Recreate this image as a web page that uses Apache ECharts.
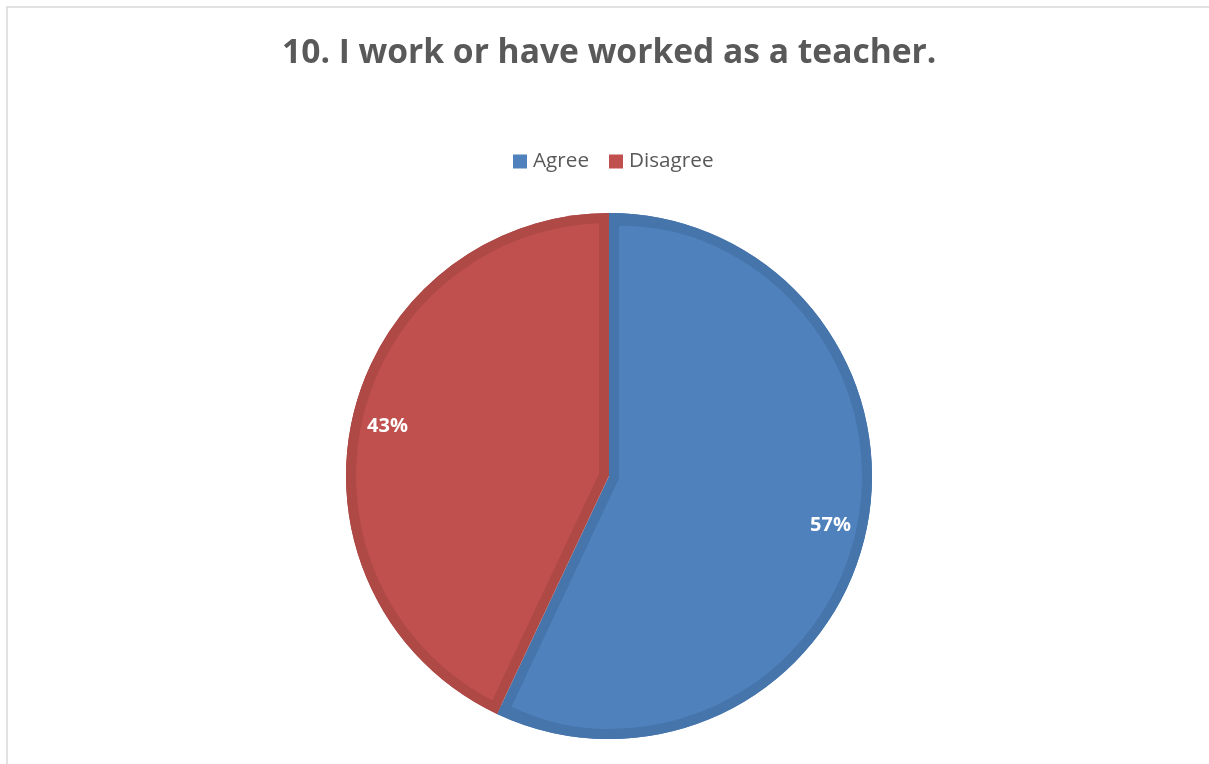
<!DOCTYPE html>
<html>
<head>
<meta charset="utf-8">
<script src="https://cdn.jsdelivr.net/npm/echarts@6/dist/echarts.min.js"></script>
<style>
  html, body { margin: 0; padding: 0; background: #ffffff; }
  #chart { width: 1209px; height: 764px; }
</style>
</head>
<body>
<div id="chart"></div>
<script>
// Survey answers for question 10 (percent of respondents)
const categories = ['Agree', 'Disagree'];
const shares = [57, 43];

const lightColors = ['#4F81BD', '#C0504D'];
const darkColors = ['#4675AB', '#AE4946'];

const CX = 609, CY = 476, R = 263, BAND = 10;

// Each lighter wedge is the slice shifted along its bisector so that both
// straight edges sit BAND pixels inside, giving the bevelled look.
const total = shares.reduce((a, b) => a + b, 0);
let acc = 0;
const wedgeCenters = shares.map(v => {
  const sweep = v / total * 2 * Math.PI;
  const mid = acc + sweep / 2; // clockwise from 12 o'clock
  acc += sweep;
  const shift = BAND / Math.sin(sweep / 2);
  return [CX + shift * Math.sin(mid), CY - shift * Math.cos(mid)];
});

function items(colors, only) {
  return categories.map((name, i) => ({
    name,
    value: shares[i],
    itemStyle: { color: (only === undefined || only === i) ? colors[i] : 'rgba(0,0,0,0)' }
  }));
}

const base = {
  type: 'pie',
  startAngle: 90,
  clockwise: true,
  silent: true,
  label: { show: false },
  labelLine: { show: false },
  emphasis: { disabled: true },
  animation: false
};

const chart = echarts.init(document.getElementById('chart'), null, { renderer: 'canvas' });
chart.setOption({
  backgroundColor: '#ffffff',
  title: {
    text: '10. I work or have worked as a teacher.',
    left: 277,
    top: 31,
    textStyle: {
      fontFamily: 'Open Sans',
      fontWeight: 'bold',
      fontSize: 33.6,
      color: '#595959'
    }
  },
  legend: {
    top: 146,
    left: 508,
    icon: 'rect',
    itemWidth: 14,
    itemHeight: 14,
    itemGap: 20,
    selectedMode: false,
    textStyle: { fontFamily: 'Open Sans', fontSize: 20.7, color: '#595959', padding: [0, 0, 0, 1] },
    data: categories.map((name, i) => ({ name, itemStyle: { color: lightColors[i] } }))
  },
  graphic: [{
    type: 'rect',
    shape: { x: 7, y: 7, width: 1220, height: 780 },
    style: { fill: 'none', stroke: '#d9d9d9', lineWidth: 1.5 },
    silent: true
  }],
  series: [
    Object.assign({}, base, {
      name: 'edge', center: [CX, CY], radius: R,
      data: items(darkColors)
    }),
    Object.assign({}, base, {
      name: 'face-agree', center: wedgeCenters[0], radius: R - BAND - 0.5,
      data: items(lightColors, 0)
    }),
    Object.assign({}, base, {
      name: 'face-disagree', center: wedgeCenters[1], radius: R - BAND - 0.5,
      data: items(lightColors, 1)
    }),
    Object.assign({}, base, {
      name: 'rim', center: [CX, CY], radius: [R - BAND, R],
      data: items(darkColors)
    }),
    Object.assign({}, base, {
      name: 'labels', center: [CX, CY], radius: [185, R],
      data: items(['rgba(0,0,0,0)', 'rgba(0,0,0,0)']),
      label: {
        show: true,
        position: 'inside',
        formatter: p => p.value + '%',
        fontFamily: 'Open Sans',
        fontWeight: 'bold',
        fontSize: 20,
        color: '#ffffff'
      }
    })
  ]
});
</script>
</body>
</html>
